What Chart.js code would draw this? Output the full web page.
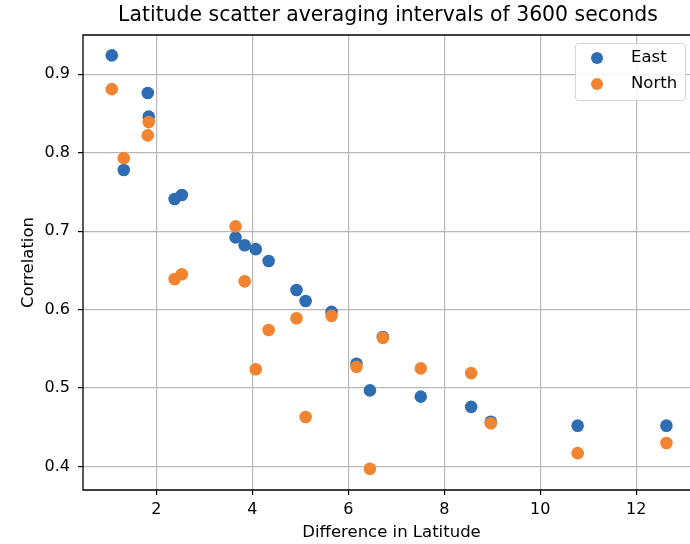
<!DOCTYPE html>
<html>
<head>
<meta charset="utf-8">
<script src="https://cdn.jsdelivr.net/npm/chart.js@4/dist/chart.umd.min.js"></script>
<style>
  html, body { margin: 0; padding: 0; background: #fff; overflow: hidden; }
  #frame { width: 690px; height: 544px; overflow: hidden; }
  #wrap { width: 720px; height: 544px; }
</style>
</head>
<body>
<div id="frame"><div id="wrap"><canvas id="scatter"></canvas></div></div>
<script>
// distance between station latitudes and the correlation of each component
const latDiff = [1.07, 1.32, 1.82, 1.84, 2.38, 2.53, 3.65, 3.84, 4.07, 4.34, 4.92,
                 5.11, 5.65, 6.17, 6.45, 6.72, 7.51, 8.56, 8.97, 10.78, 12.63];
const eastCorr = [0.924, 0.778, 0.876, 0.846, 0.741, 0.746, 0.692, 0.682, 0.677, 0.662, 0.625,
                  0.611, 0.597, 0.531, 0.497, 0.565, 0.489, 0.476, 0.457, 0.452, 0.452];
const northCorr = [0.881, 0.793, 0.822, 0.839, 0.639, 0.645, 0.706, 0.636, 0.524, 0.574, 0.589,
                   0.463, 0.592, 0.527, 0.397, 0.564, 0.525, 0.519, 0.455, 0.417, 0.430];
const xTicks = [2, 4, 6, 8, 10, 12];
const yTicks = [0.4, 0.5, 0.6, 0.7, 0.8, 0.9];

const BLUE = '#2f6db3';
const ORANGE = '#f08431';
const FONT = 'DejaVu Sans';

function points(ys) {
    return latDiff.map(function(x, i) { return {x: x, y: ys[i]}; });
}

// title, frame and the in-plot legend
const decorations = {
    id: 'decorations',
    afterDraw: function(chart) {
        const ctx = chart.ctx;
        const a = chart.chartArea;
        ctx.save();
        ctx.fillStyle = '#000';
        ctx.font = '20.4px "' + FONT + '"';
        ctx.textAlign = 'center';
        ctx.textBaseline = 'middle';
        ctx.fillText('Latitude scatter averaging intervals of 3600 seconds', 388, 16);

        ctx.strokeStyle = '#000';
        ctx.lineWidth = 1.3;
        ctx.beginPath();
        ctx.moveTo(a.right, a.top);
        ctx.lineTo(a.left, a.top);
        ctx.lineTo(a.left, a.bottom);
        ctx.lineTo(a.right, a.bottom);
        ctx.stroke();

        // legend box
        const lx = 575, ly = 43, lw = 110, lh = 57;
        ctx.fillStyle = 'rgba(255,255,255,0.85)';
        ctx.strokeStyle = '#d6d6d6';
        ctx.lineWidth = 1;
        ctx.beginPath();
        ctx.roundRect(lx + 0.5, ly + 0.5, lw, lh, 3);
        ctx.fill();
        ctx.stroke();
        const items = [['East', BLUE], ['North', ORANGE]];
        ctx.font = '16.5px "' + FONT + '"';
        ctx.textAlign = 'left';
        items.forEach(function(it, i) {
            const cy = ly + 15 + i * 26;
            ctx.fillStyle = it[1];
            ctx.beginPath();
            ctx.arc(lx + 22, cy, 6, 0, Math.PI * 2);
            ctx.fill();
            ctx.fillStyle = '#000';
            ctx.fillText(it[0], lx + 56, cy);
        });
        ctx.restore();
    }
};

new Chart(document.getElementById('scatter'), {
    type: 'scatter',
    data: {
        datasets: [{
            label: 'East',
            data: points(eastCorr),
            backgroundColor: BLUE,
            borderColor: BLUE,
            pointRadius: 6.3,
            borderWidth: 0,
            order: 1
        }, {
            label: 'North',
            data: points(northCorr),
            backgroundColor: ORANGE,
            borderColor: ORANGE,
            pointRadius: 6.3,
            borderWidth: 0,
            order: 0
        }]
    },
    options: {
        responsive: true,
        maintainAspectRatio: false,
        animation: false,
        layout: { padding: { top: 35, right: 20, left: 0, bottom: 0 } },
        plugins: {
            legend: { display: false },
            tooltip: { enabled: false }
        },
        scales: {
            x: {
                type: 'linear',
                min: 0.47,
                max: 13.33,
                afterBuildTicks: function(scale) {
                    scale.ticks = xTicks.map(function(v) { return {value: v}; });
                },
                afterFit: function(scale) { scale.height = 54; },
                grid: {
                    color: '#b8b8b8',
                    lineWidth: 1.2,
                    drawTicks: true,
                    tickLength: 5,
                    tickColor: '#000',
                    tickWidth: 1.2
                },
                border: { display: false },
                ticks: {
                    color: '#000',
                    font: { family: FONT, size: 16 },
                    padding: 5,
                    maxRotation: 0,
                    callback: function(v) { return String(v); }
                },
                title: {
                    display: true,
                    text: 'Difference in Latitude',
                    color: '#000',
                    font: { family: FONT, size: 16.5 },
                    padding: { top: 0, bottom: 1 }
                }
            },
            y: {
                type: 'linear',
                min: 0.37,
                max: 0.95,
                afterBuildTicks: function(scale) {
                    scale.ticks = yTicks.map(function(v) { return {value: v}; });
                },
                afterFit: function(scale) { scale.width = 83; },
                grid: {
                    color: '#b8b8b8',
                    lineWidth: 1.2,
                    drawTicks: true,
                    tickLength: 5,
                    tickColor: '#000',
                    tickWidth: 1.2
                },
                border: { display: false },
                ticks: {
                    color: '#000',
                    font: { family: FONT, size: 16 },
                    padding: 8,
                    callback: function(v) { return v.toFixed(1); }
                },
                title: {
                    display: true,
                    text: 'Correlation',
                    color: '#000',
                    font: { family: FONT, size: 16.5 },
                    padding: { top: 19, bottom: 0 }
                }
            }
        }
    },
    plugins: [decorations]
});
</script>
</body>
</html>
